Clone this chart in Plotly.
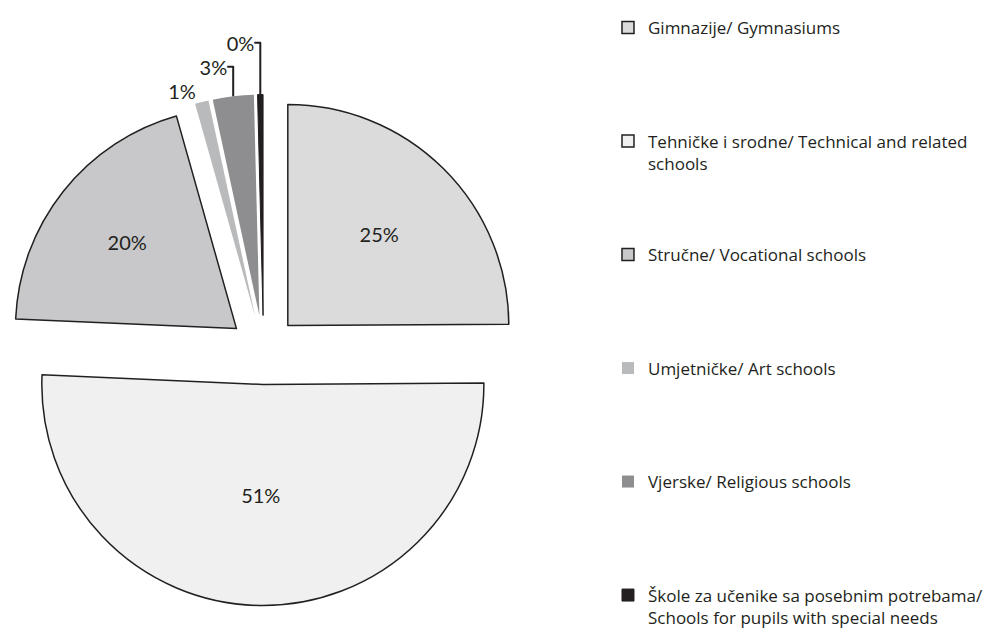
import plotly.graph_objects as go

categories = [
    "Gimnazije/ Gymnasiums",
    "Tehničke i srodne/ Technical and related<br>schools",
    "Stručne/ Vocational schools",
    "Umjetničke/ Art schools",
    "Vjerske/ Religious schools",
    "Škole za učenike sa posebnim potrebama/<br>Schools for pupils with special needs",
]
shares = [25, 51, 20, 1, 3, 0.4]
fill_colors = ["#dbdbdc", "#f0f0f0", "#c8c8ca", "#b9babc", "#8e8e90", "#231f20"]
outline_widths = [1.5, 1.5, 1.5, 0, 0, 1]

LINES_PER_ITEM = 5
legend_labels = []
for i, c in enumerate(categories):
    n = c.count("<br>") + 1
    pad = 0 if i == len(categories) - 1 else LINES_PER_ITEM - n
    legend_labels.append(c + "<br>" * pad)

W, H = 995, 630
cx, cy = 255.5, 342
half_w = cx
fig = go.Figure(
    go.Pie(
        labels=legend_labels,
        values=shares,
        sort=False,
        direction="clockwise",
        rotation=0,
        pull=[0.156] * len(shares),
        marker=dict(colors=fill_colors, line=dict(color="#231f20", width=outline_widths)),
        texttemplate="%{percent:.0%}",
        textposition=["inside", "inside", "inside", "outside", "outside", "outside"],
        insidetextorientation="horizontal",
        textfont=dict(family="Lato", size=20, color="#231f20"),
        outsidetextfont=dict(family="Lato", size=20, color="#231f20"),
        hoverinfo="skip",
        domain=dict(
            x=[0, (2 * half_w) / W],
            y=[1 - (cy + half_w) / H, 1 - (cy - half_w) / H],
        ),
    )
)

fig.update_layout(
    width=W,
    height=H,
    margin=dict(l=0, r=0, t=0, b=0, autoexpand=False),
    paper_bgcolor="white",
    plot_bgcolor="white",
    showlegend=True,
    legend=dict(
        x=0.603,
        y=1 - 2 / H,
        xanchor="left",
        yanchor="top",
        valign="top",
        font=dict(family="Open Sans", size=17, color="#231f20"),
        bgcolor="rgba(0,0,0,0)",
        itemwidth=30,
        traceorder="normal",
    ),
)

fig.write_html("out.html")
